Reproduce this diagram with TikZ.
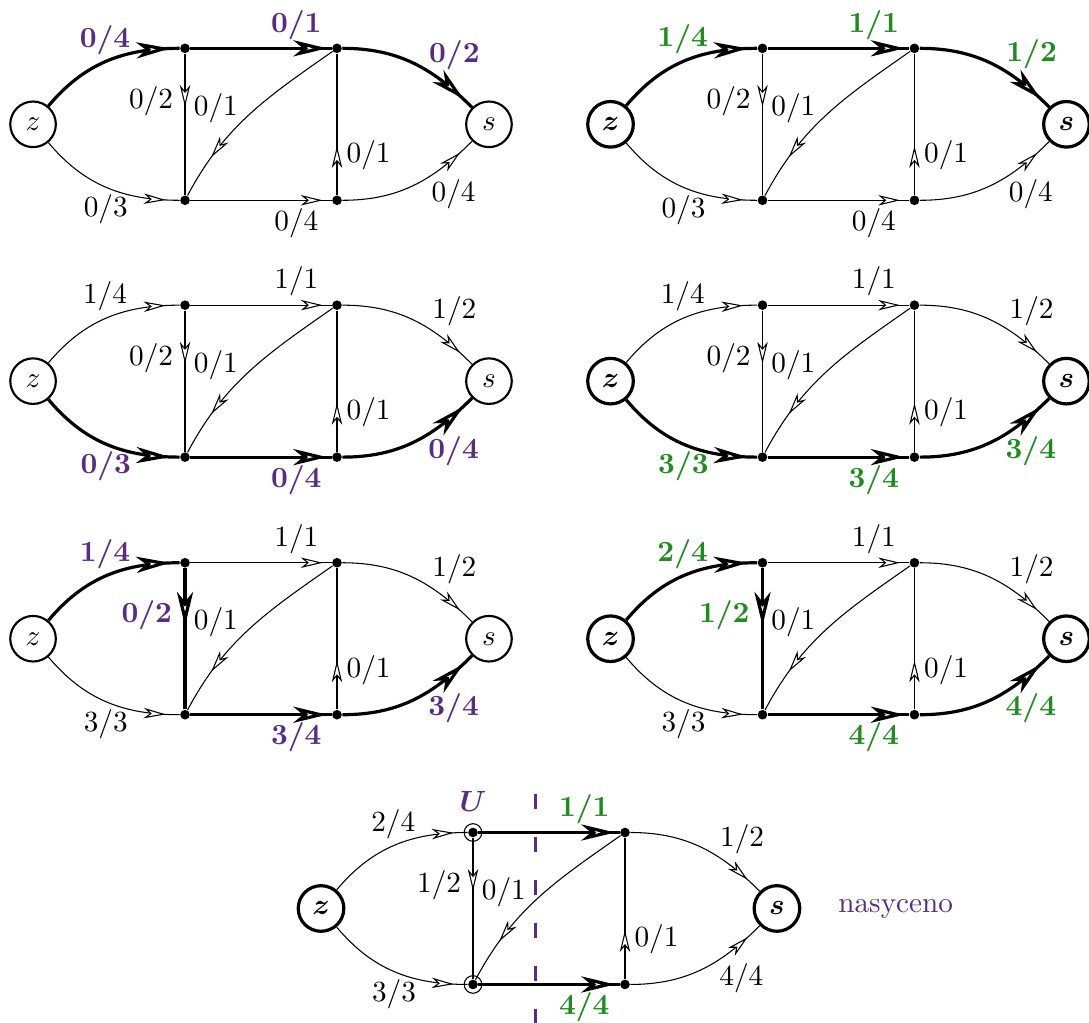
\documentclass[tikz,border=0pt,11pt]{standalone}
\usepackage{xcolor}
\usepackage{tikz}
\usetikzlibrary{positioning, decorations.markings, calc}
\definecolor{cpur}{HTML}{582C83}
\definecolor{cgrn}{HTML}{1E8C1E}
\tikzset{
  vx/.style={circle, fill, inner sep=0pt, minimum size=3.6pt},
  term/.style={circle, draw, thick, inner sep=0pt, minimum size=6mm},
  bterm/.style={term, very thick, font=\boldmath},
  % open barbed head drawn at the mark, grows with the line width
  fl/.style={thin, postaction={decorate}, decoration={markings,
      mark=at position #1 with {\draw[fill=white, line join=miter]
        (0,0) -- ({-5.9pt-1.6*\pgflinewidth},{1.4pt+.4*\pgflinewidth})
        -- ({-4.2pt-1.1*\pgflinewidth},0)
        -- ({-5.9pt-1.6*\pgflinewidth},{-1.4pt-.4*\pgflinewidth}) -- cycle;}}},
  fb/.style={fl=#1, very thick},
  ln/.style={inner sep=0pt},
  lp/.style={ln, text=cpur, font=\bfseries},
  lg/.style={ln, text=cgrn, font=\bfseries},
  Lza/.style={pos=.5, xshift=-.02cm, yshift=.28cm},
  Lzc/.style={pos=.5, xshift=-.01cm, yshift=-.29cm},
  Lab/.style={pos=.75, yshift=.31cm},
  Lcd/.style={pos=.75, yshift=-.30cm},
  Lbs/.style={pos=.5, xshift=.54cm, yshift=.11cm},
  Lds/.style={pos=.5, xshift=.53cm, yshift=-.11cm},
  Lac/.style={pos=.335, anchor=east, xshift=-.15cm},
  Lbc/.style={pos=.5, anchor=west, xshift=-.74cm, yshift=.08cm},
  Ldb/.style={pos=.28, anchor=west, xshift=.12cm},
  ulbl/.style={inner sep=0pt, text=cpur, font=\boldmath},
  cut/.style={cpur, line width=1pt, dash pattern=on 5.6pt off 10.5pt},
}
% vertices of one network: suffix, shift, style of z and s
\newcommand{\flownodes}[3]{%
  \begin{scope}[shift={#2}]
    \node[vx] (a#1) at (0,0) {};
    \node[vx] (b#1) at (2,0) {};
    \node[vx] (c#1) at (0,-2) {};
    \node[vx] (d#1) at (2,-2) {};
    \node[#3] (z#1) at (-2,-1) {$z$};
    \node[#3] (s#1) at (4,-1) {$s$};
  \end{scope}}

\begin{document}
\begin{tikzpicture}
  \useasboundingbox (-2.435,0.636) rectangle (11.897,-12.827);

  % 1
  \flownodes{1}{(0,0)}{term}
  \draw[fb=.89] (z1) to[out=50,in=180] node[lp,Lza]{0/4} (a1);
  \draw[fb=.92] (a1) -- node[lp,Lab]{0/1} (b1);
  \draw[fb=.87] (b1) to[out=0,in=135] node[lp,Lbs]{0/2} (s1);
  \draw[fl=.89] (z1) to[out=-50,in=180] node[ln,Lzc]{0/3} (c1);
  \draw[fl=.92] (c1) -- node[ln,Lcd]{0/4} (d1);
  \draw[fl=.87] (d1) to[out=0,in=-135] node[ln,Lds]{0/4} (s1);
  \draw[fl=.36] (a1) -- node[ln,Lac]{0/2} (c1);
  \draw[fl=.77] (b1) to[out=215,in=62] node[ln,Lbc]{0/1} (c1);
  \draw[fl=.33] (d1) -- node[ln,Ldb]{0/1} (b1);

  % 2
  \flownodes{2}{(7.6,0)}{bterm}
  \draw[fb=.89] (z2) to[out=50,in=180] node[lg,Lza]{1/4} (a2);
  \draw[fb=.92] (a2) -- node[lg,Lab]{1/1} (b2);
  \draw[fb=.87] (b2) to[out=0,in=135] node[lg,Lbs]{1/2} (s2);
  \draw[fl=.89] (z2) to[out=-50,in=180] node[ln,Lzc]{0/3} (c2);
  \draw[fl=.92] (c2) -- node[ln,Lcd]{0/4} (d2);
  \draw[fl=.87] (d2) to[out=0,in=-135] node[ln,Lds]{0/4} (s2);
  \draw[fl=.36] (a2) -- node[ln,Lac]{0/2} (c2);
  \draw[fl=.77] (b2) to[out=215,in=62] node[ln,Lbc]{0/1} (c2);
  \draw[fl=.33] (d2) -- node[ln,Ldb]{0/1} (b2);

  % 3
  \flownodes{3}{(0,-3.38)}{term}
  \draw[fl=.89] (z3) to[out=50,in=180] node[ln,Lza]{1/4} (a3);
  \draw[fl=.92] (a3) -- node[ln,Lab]{1/1} (b3);
  \draw[fl=.87] (b3) to[out=0,in=135] node[ln,Lbs]{1/2} (s3);
  \draw[fb=.89] (z3) to[out=-50,in=180] node[lp,Lzc]{0/3} (c3);
  \draw[fb=.92] (c3) -- node[lp,Lcd]{0/4} (d3);
  \draw[fb=.87] (d3) to[out=0,in=-135] node[lp,Lds]{0/4} (s3);
  \draw[fl=.36] (a3) -- node[ln,Lac]{0/2} (c3);
  \draw[fl=.77] (b3) to[out=215,in=62] node[ln,Lbc]{0/1} (c3);
  \draw[fl=.33] (d3) -- node[ln,Ldb]{0/1} (b3);

  % 4
  \flownodes{4}{(7.6,-3.38)}{bterm}
  \draw[fl=.89] (z4) to[out=50,in=180] node[ln,Lza]{1/4} (a4);
  \draw[fl=.92] (a4) -- node[ln,Lab]{1/1} (b4);
  \draw[fl=.87] (b4) to[out=0,in=135] node[ln,Lbs]{1/2} (s4);
  \draw[fb=.89] (z4) to[out=-50,in=180] node[lg,Lzc]{3/3} (c4);
  \draw[fb=.92] (c4) -- node[lg,Lcd]{3/4} (d4);
  \draw[fb=.87] (d4) to[out=0,in=-135] node[lg,Lds]{3/4} (s4);
  \draw[fl=.36] (a4) -- node[ln,Lac]{0/2} (c4);
  \draw[fl=.77] (b4) to[out=215,in=62] node[ln,Lbc]{0/1} (c4);
  \draw[fl=.33] (d4) -- node[ln,Ldb]{0/1} (b4);

  % 5
  \flownodes{5}{(0,-6.77)}{term}
  \draw[fb=.89] (z5) to[out=50,in=180] node[lp,Lza]{1/4} (a5);
  \draw[fl=.92] (a5) -- node[ln,Lab]{1/1} (b5);
  \draw[fl=.87] (b5) to[out=0,in=135] node[ln,Lbs]{1/2} (s5);
  \draw[fl=.89] (z5) to[out=-50,in=180] node[ln,Lzc]{3/3} (c5);
  \draw[fb=.92] (c5) -- node[lp,Lcd]{3/4} (d5);
  \draw[fb=.87] (d5) to[out=0,in=-135] node[lp,Lds]{3/4} (s5);
  \draw[fb=.36] (a5) -- node[lp,Lac]{0/2} (c5);
  \draw[fl=.77] (b5) to[out=215,in=62] node[ln,Lbc]{0/1} (c5);
  \draw[fl=.33] (d5) -- node[ln,Ldb]{0/1} (b5);

  % 6
  \flownodes{6}{(7.6,-6.77)}{bterm}
  \draw[fb=.89] (z6) to[out=50,in=180] node[lg,Lza]{2/4} (a6);
  \draw[fl=.92] (a6) -- node[ln,Lab]{1/1} (b6);
  \draw[fl=.87] (b6) to[out=0,in=135] node[ln,Lbs]{1/2} (s6);
  \draw[fl=.89] (z6) to[out=-50,in=180] node[ln,Lzc]{3/3} (c6);
  \draw[fb=.92] (c6) -- node[lg,Lcd]{4/4} (d6);
  \draw[fb=.87] (d6) to[out=0,in=-135] node[lg,Lds]{4/4} (s6);
  \draw[fb=.36] (a6) -- node[lg,Lac]{1/2} (c6);
  \draw[fl=.77] (b6) to[out=215,in=62] node[ln,Lbc]{0/1} (c6);
  \draw[fl=.33] (d6) -- node[ln,Ldb]{0/1} (b6);

  % 7: cut
  \flownodes{7}{(3.79,-10.32)}{bterm}
  \draw[cut] ($(a7)+(.82,.51)$) -- ($(a7)+(.82,-2.51)$);
  \draw[fl=.89] (z7) to[out=50,in=180] node[ln,Lza]{2/4} (a7);
  \draw[fb=.92] (a7) -- node[lg,Lab]{1/1} (b7);
  \draw[fl=.87] (b7) to[out=0,in=135] node[ln,Lbs]{1/2} (s7);
  \draw[fl=.89] (z7) to[out=-50,in=180] node[ln,Lzc]{3/3} (c7);
  \draw[fb=.92] (c7) -- node[lg,Lcd]{4/4} (d7);
  \draw[fl=.87] (d7) to[out=0,in=-135] node[ln,Lds]{4/4} (s7);
  \draw[fl=.36] (a7) -- node[ln,Lac]{1/2} (c7);
  \draw[fl=.77] (b7) to[out=215,in=62] node[ln,Lbc]{0/1} (c7);
  \draw[fl=.33] (d7) -- node[ln,Ldb]{0/1} (b7);
  \draw[thin] (a7) circle[radius=3.3pt] (c7) circle[radius=3.3pt];
  \node[ulbl, above=2mm of a7] (U7) {$U$};
  \node[ln, text=cpur, right=4.8mm of s7] (sat) {nasyceno};
\end{tikzpicture}
\end{document}
